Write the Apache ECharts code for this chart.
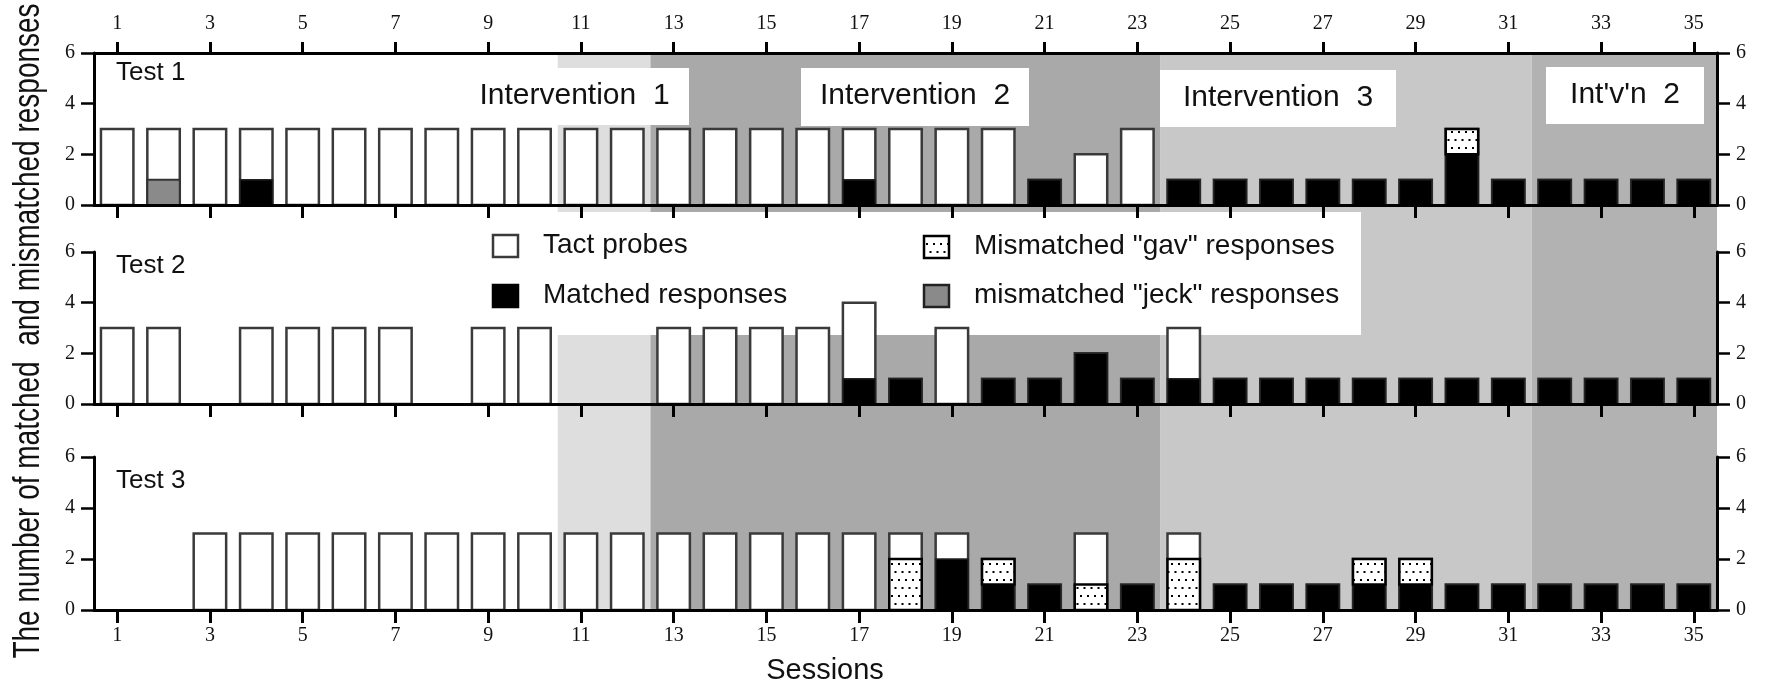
<!DOCTYPE html>
<html><head><meta charset="utf-8">
<script src="https://cdn.jsdelivr.net/npm/echarts@6/dist/echarts.min.js"></script>
<style>html,body{margin:0;padding:0;background:#fff}#c{width:1768px;height:689px}</style>
</head><body><div id="c"></div>
<script>
// ---------- data ----------
const sessions = [1,2,3,4,5,6,7,8,9,10,11,12,13,14,15,16,17,18,19,20,21,22,23,24,25,26,27,28,29,30,31,32,33,34,35];
const tickSessions = [1,3,5,7,9,11,13,15,17,19,21,23,25,27,29,31,33,35];
const testNames = ['Test 1','Test 2','Test 3'];
// Test 1
const t1Total   = [3,3,3,3,3,3,3,3,3,3,3,3,3,3,3,3,3,3,3,3,1,2,3,1,1,1,1,1,1,3,1,1,1,1,1];
const t1Matched = [0,0,0,1,0,0,0,0,0,0,0,0,0,0,0,0,1,0,0,0,1,0,0,1,1,1,1,1,1,2,1,1,1,1,1];
const t1Gav     = [0,0,0,0,0,0,0,0,0,0,0,0,0,0,0,0,0,0,0,0,0,0,0,0,0,0,0,0,0,1,0,0,0,0,0];
const t1Jeck    = [0,1,0,0,0,0,0,0,0,0,0,0,0,0,0,0,0,0,0,0,0,0,0,0,0,0,0,0,0,0,0,0,0,0,0];
// Test 2
const t2Total   = [3,3,0,3,3,3,3,0,3,3,0,0,3,3,3,3,4,1,3,1,1,2,1,3,1,1,1,1,1,1,1,1,1,1,1];
const t2Matched = [0,0,0,0,0,0,0,0,0,0,0,0,0,0,0,0,1,1,0,1,1,2,1,1,1,1,1,1,1,1,1,1,1,1,1];
const t2Gav     = [0,0,0,0,0,0,0,0,0,0,0,0,0,0,0,0,0,0,0,0,0,0,0,0,0,0,0,0,0,0,0,0,0,0,0];
const t2Jeck    = [0,0,0,0,0,0,0,0,0,0,0,0,0,0,0,0,0,0,0,0,0,0,0,0,0,0,0,0,0,0,0,0,0,0,0];
// Test 3
const t3Total   = [0,0,3,3,3,3,3,3,3,3,3,3,3,3,3,3,3,3,3,2,1,3,1,3,1,1,1,2,2,1,1,1,1,1,1];
const t3Matched = [0,0,0,0,0,0,0,0,0,0,0,0,0,0,0,0,0,0,2,1,1,0,1,0,1,1,1,1,1,1,1,1,1,1,1];
const t3Gav     = [0,0,0,0,0,0,0,0,0,0,0,0,0,0,0,0,0,2,0,1,0,1,0,2,0,0,0,1,1,0,0,0,0,0,0];
const t3Jeck    = [0,0,0,0,0,0,0,0,0,0,0,0,0,0,0,0,0,0,0,0,0,0,0,0,0,0,0,0,0,0,0,0,0,0,0];
// phases
const phaseNames = ['Intervention  1','Intervention  2','Intervention  3',"Int'v'n  2"];
const phaseStart = [10.5,12.5,23.5,31.5];
const phaseEnd   = [12.5,23.5,31.5,35.5];
const legendNames = ['Tact probes','Matched responses','Mismatched "gav" responses','mismatched "jeck" responses'];
const xTitle = 'Sessions';
const yTitle = 'The number of matched  and mismatched responses';

// ---------- styles ----------
const phaseColors = ['#dedede','#a9a9a9','#c8c8c8','#b2b2b2'];
const SANS = 'Liberation Sans, Arial, sans-serif';
const SERIF = 'Liberation Serif, Times New Roman, serif';

function dotCanvas(){
  const c = document.createElement('canvas'); c.width = 14; c.height = 16;
  const g = c.getContext('2d');
  g.fillStyle = '#fff'; g.fillRect(0,0,14,16);
  g.fillStyle = '#000';
  g.fillRect(2,3,2,2); g.fillRect(9,3,2,2);
  g.fillRect(5.5,11,2,2); g.fillRect(12.5,11,2,2); g.fillRect(-1.5,11,2,2);
  return c;
}
const dotFill = {image: dotCanvas(), repeat: 'repeat'};

function rows(total, matched, gav, jeck){
  return sessions.map((s,i)=>[s,total[i],matched[i],gav[i],jeck[i]]);
}

function renderBar(params, api){
  const x = api.value(0), tot = api.value(1), m = api.value(2), g = api.value(3), j = api.value(4);
  if(!tot) return null;
  const bw = api.size([1,0])[0]*0.70;
  const cx = api.coord([x,0])[0];
  const left = cx - bw/2;
  const r = (v0,v1)=>{const p0=api.coord([x,v0]), p1=api.coord([x,v1]); return {x:left,y:p1[1],width:bw,height:p0[1]-p1[1]};};
  const ch = [];
  ch.push({type:'rect', shape:r(0,tot), style:{fill:'#fff', stroke:'#3a3a3a', lineWidth:2.5}});
  let s = 0;
  if(m>0){ ch.push({type:'rect', shape:r(s,s+m), style:{fill:'#000', stroke:'#222', lineWidth:1.5}}); s+=m; }
  if(g>0){ ch.push({type:'rect', shape:r(s,s+g), style:{fill:dotFill, stroke:'#000', lineWidth:2.5}}); s+=g; }
  if(j>0){ ch.push({type:'rect', shape:r(s,s+j), style:{fill:'#8a8a8a', stroke:'#333', lineWidth:2}}); s+=j; }
  return {type:'group', children: ch};
}

function renderBand(params, api){
  const p0 = api.coord([api.value(0),1]);
  const p1 = api.coord([api.value(1),0]);
  return {type:'rect', shape:{x:p0[0], y:p0[1], width:p1[0]-p0[0], height:p1[1]-p0[1]},
          style:{fill: phaseColors[params.dataIndex]}};
}

// ---------- layout ----------
const GL = 94, GR = 51;
const panels = [{top:53,height:152},{top:252,height:152},{top:457,height:153}];

function xAx(grid, pos, showLabel, tickLen, margin){
  return {type:'value', gridIndex:grid, position:pos, min:0.5, max:35.5, z:5,
    axisLine:{show:true, onZero:false, lineStyle:{color:'#000', width:3}},
    axisTick:{show:true, customValues:tickSessions, length:tickLen, lineStyle:{color:'#000', width:3}},
    axisLabel:{show:showLabel, customValues:tickSessions, margin:margin, fontFamily:SERIF, fontSize:20, color:'#111'},
    splitLine:{show:false}};
}
function yAx(grid, pos){
  return {type:'value', gridIndex:grid, position:pos, min:0, max:6, interval:2, z:5,
    axisLine:{show:true, onZero:false, lineStyle:{color:'#000', width:3}},
    axisTick:{show:true, length:13, lineStyle:{color:'#000', width:2.5}},
    axisLabel:{margin:19, fontFamily:SERIF, fontSize:20, color:'#111'},
    splitLine:{show:false}};
}

const grids = panels.map(p=>({left:GL, right:GR, top:p.top, height:p.height}));
grids.push({left:GL, right:GR, top:53, height:557});

const xAxes = [
  xAx(0,'bottom',false,13,16),
  xAx(0,'top',true,11,19),
  xAx(1,'bottom',false,13,16),
  xAx(2,'bottom',true,13,16),
  {type:'value', gridIndex:3, min:0.5, max:35.5, show:false}
];
const yAxes = [
  yAx(0,'left'), yAx(0,'right'),
  yAx(1,'left'), yAx(1,'right'),
  yAx(2,'left'), yAx(2,'right'),
  {type:'value', gridIndex:3, min:0, max:1, show:false}
];

const series = [
  {type:'custom', name:'phases', xAxisIndex:4, yAxisIndex:6, z:0, silent:true,
   data: phaseStart.map((s,i)=>[s, phaseEnd[i]]), encode:{x:[0,1]}, renderItem:renderBand},
  {type:'custom', name:testNames[0], xAxisIndex:0, yAxisIndex:0, z:3, data:rows(t1Total,t1Matched,t1Gav,t1Jeck), encode:{x:0,y:1}, renderItem:renderBar},
  {type:'custom', name:testNames[1], xAxisIndex:2, yAxisIndex:2, z:3, data:rows(t2Total,t2Matched,t2Gav,t2Jeck), encode:{x:0,y:1}, renderItem:renderBar},
  {type:'custom', name:testNames[2], xAxisIndex:3, yAxisIndex:4, z:3, data:rows(t3Total,t3Matched,t3Gav,t3Jeck), encode:{x:0,y:1}, renderItem:renderBar}
];

// ---------- annotations ----------
const txt = (text, x, y, size, extra)=>Object.assign({type:'text', z:10, x:x, y:y,
  style:{text:text, font:size+'px '+SANS, fill:'#111', align:'left', verticalAlign:'middle'}}, extra||{});
const box = (x,y,w,h)=>({type:'rect', z:1, shape:{x:x,y:y,width:w,height:h}, style:{fill:'#fff'}});

const phaseBoxes = [[460,68,229,57],[801,68,228,58],[1160,70,236,57],[1546,67,158,57]];
const graphics = [];
graphics.push(box(460,212,901,123)); // legend panel
phaseBoxes.forEach((b,i)=>{
  graphics.push(box(b[0],b[1],b[2],b[3]));
  const t = txt(phaseNames[i], b[0]+b[2]/2, b[1]+b[3]/2-1, 30);
  t.style.align = 'center';
  graphics.push(t);
});
const testLabelY = [73, 266, 481];
testNames.forEach((n,i)=>graphics.push(txt(n, 116, testLabelY[i], 26)));
// legend
const legIcons = [
  {x:493,y:235,fill:'#fff',stroke:'#3a3a3a'},
  {x:493,y:285,fill:'#000',stroke:'#000'},
  {x:924,y:236,fill:dotFill,stroke:'#000'},
  {x:924,y:285,fill:'#8a8a8a',stroke:'#222'}
];
legendNames.forEach((n,i)=>{
  const ic = legIcons[i];
  graphics.push({type:'rect', z:10, shape:{x:ic.x, y:ic.y, width:25, height:22}, style:{fill:ic.fill, stroke:ic.stroke, lineWidth:2.5}});
  graphics.push(txt(n, ic.x+50, ic.y+10, 28));
});
graphics.push(Object.assign(txt(yTitle, 28.5, 331, 28), {rotation:Math.PI/2, scaleY:1.3}));
graphics[graphics.length-1].style.align = 'center';
const st = txt(xTitle, 825, 671, 29); st.style.align = 'center'; graphics.push(st);

const chart = echarts.init(document.getElementById('c'), null, {renderer:'canvas'});
chart.setOption({
  animation:false,
  backgroundColor:'#fff',
  grid:grids, xAxis:xAxes, yAxis:yAxes, series:series, graphic:graphics
});
</script></body></html>
